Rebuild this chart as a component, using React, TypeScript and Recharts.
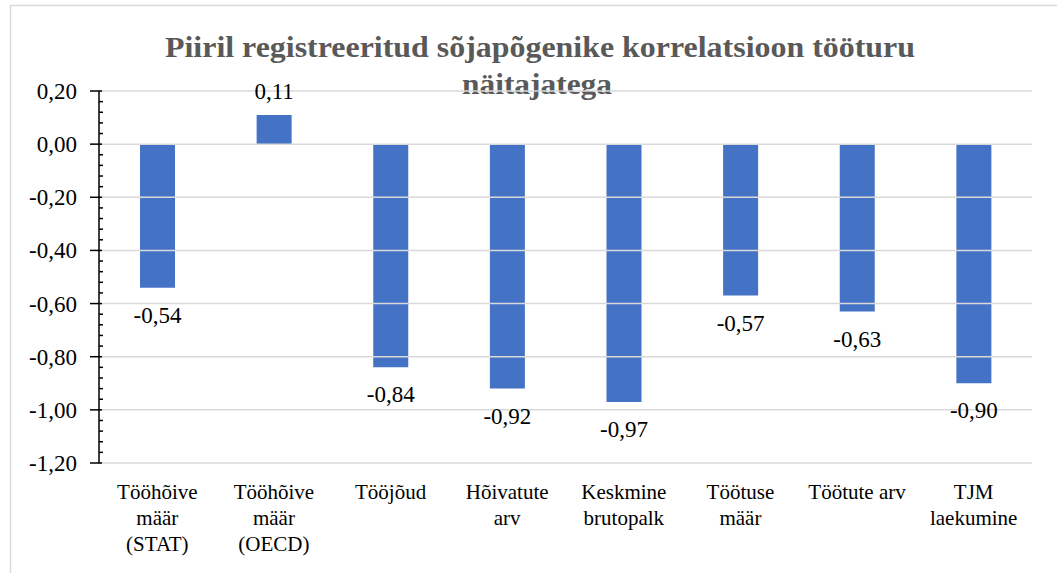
import React from 'react';
import { BarChart, Bar, XAxis, YAxis, ReferenceLine, LabelList, Customized } from 'recharts';

const titleLines = ['Piiril registreeritud sõjapõgenike korrelatsioon tööturu', 'näitajatega'];
const categories = [
  'Tööhõive määr (STAT)',
  'Tööhõive määr (OECD)',
  'Tööjõud',
  'Hõivatute arv',
  'Keskmine brutopalk',
  'Töötuse määr',
  'Töötute arv',
  'TJM laekumine',
];
const categoryLines: string[][] = [
  ['Tööhõive', 'määr', '(STAT)'],
  ['Tööhõive', 'määr', '(OECD)'],
  ['Tööjõud'],
  ['Hõivatute', 'arv'],
  ['Keskmine', 'brutopalk'],
  ['Töötuse', 'määr'],
  ['Töötute arv'],
  ['TJM', 'laekumine'],
];
const correlations = [-0.54, 0.11, -0.84, -0.92, -0.97, -0.57, -0.63, -0.9];
const majorTicks = [0.2, 0, -0.2, -0.4, -0.6, -0.8, -1.0, -1.2];
const minorStep = 0.04;

const allTicks: number[] = [];
for (let i = 0; i <= 35; i++) {
  allTicks.push(Math.round((0.2 - i * minorStep) * 100) / 100);
}

const data = categories.map((c, i) => ({ name: c, value: correlations[i] }));

const FONT = 'Liberation Serif';
const fmt = (v: number) => v.toFixed(2).replace('.', ',');

const TICK_SIZE = 8;
const TICK_MARGIN = 4;

const serif: React.CSSProperties = { fontFamily: "'Liberation Serif', serif", fontWeight: 400 };

const YTick = (props: any) => {
  const { x, y, payload } = props;
  const v = payload.value as number;
  const axisX = x + TICK_SIZE + TICK_MARGIN;
  const isMajor = majorTicks.some((m) => Math.abs(m - v) < 1e-6);
  if (!isMajor) {
    return <line x1={axisX} x2={axisX + 4} y1={y} y2={y} stroke="#000" strokeWidth={1.5} />;
  }
  return (
    <g fontFamily={FONT}>
      <line x1={axisX - 9} x2={axisX + 3} y1={y} y2={y} stroke="#000" strokeWidth={1.5} />
      <text x={axisX - 22} y={y + 8} textAnchor="end" fontFamily={FONT} fontWeight={400} fontSize={23} fill="#000" style={serif}>
        {fmt(v)}
      </text>
    </g>
  );
};

const XTick = (props: any) => {
  const { x, y, payload } = props;
  const idx = categories.indexOf(payload.value);
  const lines = categoryLines[idx] || [payload.value];
  return (
    <g fontFamily={FONT}>
      {lines.map((l, i) => (
        <text key={i} x={x} y={y + 28 + i * 26} textAnchor="middle" fontFamily={FONT} fontWeight={400} fontSize={21} fill="#000" style={serif}>
          {l}
        </text>
      ))}
    </g>
  );
};

const BarLabel = (props: any) => {
  const { x, y, width, height, value } = props;
  const top = Math.min(y, y + height);
  const bottom = Math.max(y, y + height);
  const cx = x + width / 2;
  const ty = value < 0 ? bottom + 35 : top - 16;
  return (
    <text x={cx} y={ty} textAnchor="middle" fontFamily={FONT} fontWeight={400} fontSize={23} fill="#000" style={serif}>
      {fmt(value)}
    </text>
  );
};

const Decor = () => (
  <g>
    <line x1={10} y1={5.5} x2={1057} y2={5.5} stroke="#d9d9d9" strokeWidth={1.5} />
    <line x1={10.5} y1={5} x2={10.5} y2={573} stroke="#d9d9d9" strokeWidth={1.5} />
    <text x={540} y={57} textAnchor="middle" fontFamily={FONT} fontWeight="bold" fontSize={30} fill="#595959" textLength={750} lengthAdjust="spacingAndGlyphs">
      {titleLines[0]}
    </text>
    <text x={537} y={94} textAnchor="middle" fontFamily={FONT} fontWeight="bold" fontSize={30} fill="#595959" textLength={150} lengthAdjust="spacingAndGlyphs">
      {titleLines[1]}
    </text>
  </g>
);

export default function App() {
  return (
    <div style={{ position: 'absolute', left: 0, top: 0, width: 1057, height: 573, overflow: 'hidden', background: '#fff', fontFamily: "'Liberation Serif', serif" }}>
      <BarChart width={1057} height={573} data={data} margin={{ top: 91, right: 25, bottom: 10, left: 10 }} barSize={35} style={{ fontFamily: "'Liberation Serif', serif" }}>
        {majorTicks.map((t) => (
          <ReferenceLine key={t} y={t} stroke="#d9d9d9" strokeWidth={1.5} ifOverflow="extendDomain" />
        ))}
        <XAxis dataKey="name" height={100} axisLine={false} tickLine={false} tick={<XTick />} interval={0} />
        <YAxis
          type="number"
          domain={[-1.2, 0.2]}
          ticks={allTicks}
          interval={0}
          width={89}
          tickSize={TICK_SIZE}
          tickMargin={TICK_MARGIN}
          tickLine={false}
          axisLine={{ stroke: '#000', strokeWidth: 1.5 }}
          tick={<YTick />}
        />
        <Bar dataKey="value" fill="#4472C4" isAnimationActive={false}>
          <LabelList dataKey="value" content={<BarLabel />} />
        </Bar>
        <Customized component={Decor} />
      </BarChart>
    </div>
  );
}
